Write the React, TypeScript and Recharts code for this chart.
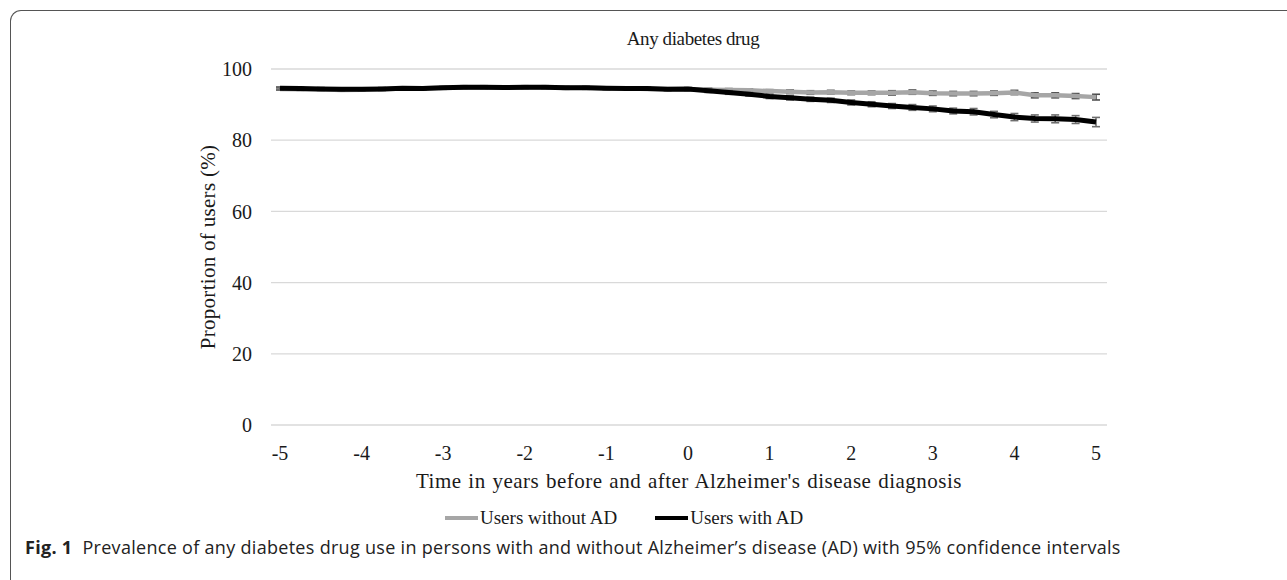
import React from 'react';
import { LineChart, Line, XAxis, YAxis, CartesianGrid, ErrorBar, Legend } from 'recharts';

const years = [
  -5, -4.75, -4.5, -4.25, -4, -3.75, -3.5, -3.25, -3, -2.75,
  -2.5, -2.25, -2, -1.75, -1.5, -1.25, -1, -0.75, -0.5, -0.25,
  0, 0.25, 0.5, 0.75, 1, 1.25, 1.5, 1.75, 2, 2.25,
  2.5, 2.75, 3, 3.25, 3.5, 3.75, 4, 4.25, 4.5, 4.75, 5,
];

const withoutAD = [
  94.4, 94.3, 94.3, 94.1, 94.2, 94.3, 94.5, 94.6, 94.7, 94.8,
  94.7, 94.8, 94.9, 94.8, 94.7, 94.8, 94.6, 94.6, 94.4, 94.4,
  94.3, 94.2, 94.1, 94.0, 93.8, 93.6, 93.4, 93.5, 93.3, 93.3,
  93.3, 93.5, 93.2, 93.1, 93.1, 93.2, 93.4, 92.6, 92.6, 92.4, 92.1,
];

const withAD = [
  94.6, 94.5, 94.4, 94.3, 94.3, 94.4, 94.6, 94.5, 94.7, 94.9,
  94.9, 94.8, 94.9, 94.9, 94.7, 94.7, 94.6, 94.5, 94.5, 94.3,
  94.4, 93.9, 93.4, 92.9, 92.3, 91.9, 91.5, 91.2, 90.6, 90.1,
  89.6, 89.2, 88.8, 88.2, 88.0, 87.2, 86.5, 86.1, 86.0, 85.8, 85.1,
];

const ciWithoutAD = [
  0.3, 0.3, 0.3, 0.3, 0.3, 0.3, 0.3, 0.3, 0.3, 0.3,
  0.3, 0.3, 0.3, 0.3, 0.3, 0.3, 0.3, 0.3, 0.3, 0.3,
  0.3, 0.4, 0.4, 0.4, 0.4, 0.5, 0.5, 0.5, 0.5, 0.5,
  0.6, 0.6, 0.6, 0.6, 0.6, 0.6, 0.6, 0.7, 0.7, 0.7, 0.8,
];

const ciWithAD = [
  0.4, 0.4, 0.4, 0.4, 0.4, 0.4, 0.4, 0.4, 0.4, 0.4,
  0.4, 0.4, 0.4, 0.4, 0.4, 0.4, 0.4, 0.4, 0.4, 0.4,
  0.4, 0.5, 0.5, 0.5, 0.6, 0.6, 0.6, 0.6, 0.7, 0.7,
  0.7, 0.8, 0.8, 0.8, 0.9, 0.9, 1.0, 1.0, 1.1, 1.1, 1.3,
];

const seriesNames = ['Users without AD', 'Users with AD'];
const xTicks = [-5, -4, -3, -2, -1, 0, 1, 2, 3, 4, 5];
const yTicks = [0, 20, 40, 60, 80, 100];

const data = years.map((t, i) => ({
  t,
  without: withoutAD[i],
  withAD: withAD[i],
  eWithout: ciWithoutAD[i],
  eWith: ciWithAD[i],
}));

const serif = '"Liberation Serif", "Times New Roman", serif';
const textColor = '#1a1a1a';

const renderLegend = (props: any) => {
  const payload = [...(props.payload || [])].sort(
    (a: any, b: any) => seriesNames.indexOf(a.value) - seriesNames.indexOf(b.value)
  );
  return (
    <div style={{ display: 'flex', alignItems: 'center', fontFamily: serif, fontSize: 19, color: textColor, whiteSpace: 'nowrap' }}>
      {payload.map((e: any, i: number) => (
        <div key={i} style={{ display: 'flex', alignItems: 'center', marginRight: i === 0 ? 38 : 0 }}>
          <span style={{ display: 'inline-block', width: 33, height: 4, background: e.color, marginRight: 2 }} />
          <span>{e.value}</span>
        </div>
      ))}
    </div>
  );
};

export default function App() {
  return (
    <div style={{ position: 'absolute', left: 0, top: 0, width: 1287, height: 580, background: '#fff', overflow: 'hidden' }}>
      <div style={{ position: 'absolute', left: 10, top: 10, width: 1300, height: 600, borderTop: '1.5px solid #555', borderLeft: '1.5px solid #555', borderTopLeftRadius: 11, boxSizing: 'border-box' }} />
      <div style={{ position: 'absolute', left: 0, width: 1386, top: 28, textAlign: 'center', fontFamily: serif, fontSize: 19, letterSpacing: '-0.4px', color: textColor }}>
        Any diabetes drug
      </div>
      <div style={{ position: 'absolute', left: 0, top: 0 }}>
        <LineChart width={1287} height={580} data={data} margin={{ top: 69, right: 180, left: 0, bottom: 0 }}>
          <CartesianGrid vertical={false} stroke="#d9d9d9" strokeWidth={1.3} />
          <XAxis
            dataKey="t"
            type="number"
            domain={[-5, 5]}
            ticks={xTicks}
            padding={{ left: 9, right: 11 }}
            axisLine={false}
            tickLine={false}
            tickSize={0}
            tickMargin={21}
            height={155}
            tick={{ fontFamily: serif, fontSize: 20, fill: textColor }}
            label={{ value: "Time in years before and after Alzheimer's disease diagnosis", position: 'insideBottom', offset: 92, fontFamily: serif, fontSize: 21, fill: textColor, style: { letterSpacing: '0.5px', wordSpacing: '1px' } }}
          />
          <YAxis
            type="number"
            domain={[0, 100]}
            ticks={yTicks}
            axisLine={false}
            tickLine={false}
            tickSize={0}
            tickMargin={19}
            width={271}
            tick={{ fontFamily: serif, fontSize: 20, fill: textColor }}
            label={{ value: 'Proportion of users (%)', angle: -90, position: 'center', dx: 72, fontFamily: serif, fontSize: 21, fill: textColor, style: { letterSpacing: '0.3px' } }}
          />
          <Legend
            verticalAlign="middle"
            align="center"
            content={renderLegend}
            wrapperStyle={{ top: 507, left: 445, width: 420, height: 26 }}
          />
          <Line
            name="Users without AD"
            dataKey="without"
            stroke="#a6a6a6"
            strokeWidth={4.5}
            dot={false}
            activeDot={false}
            isAnimationActive={false}
          >
            <ErrorBar dataKey="eWithout" direction="y" width={4} stroke="#4d4d4d" strokeWidth={1.6} isAnimationActive={false} />
          </Line>
          <Line
            name="Users with AD"
            dataKey="withAD"
            stroke="#000"
            strokeWidth={5}
            dot={false}
            activeDot={false}
            isAnimationActive={false}
          >
            <ErrorBar dataKey="eWith" direction="y" width={4} stroke="#6e6e6e" strokeWidth={1.6} isAnimationActive={false} />
          </Line>
        </LineChart>
      </div>
      <div style={{ position: 'absolute', left: 25, top: 535, fontFamily: '"Open Sans", "Noto Sans", sans-serif', fontSize: 18, letterSpacing: '0.3px', color: '#222', whiteSpace: 'nowrap' }}>
        <b>Fig. 1</b>&nbsp;&nbsp;Prevalence of any diabetes drug use in persons with and without Alzheimer’s disease (AD) with 95% confidence intervals
      </div>
    </div>
  );
}
